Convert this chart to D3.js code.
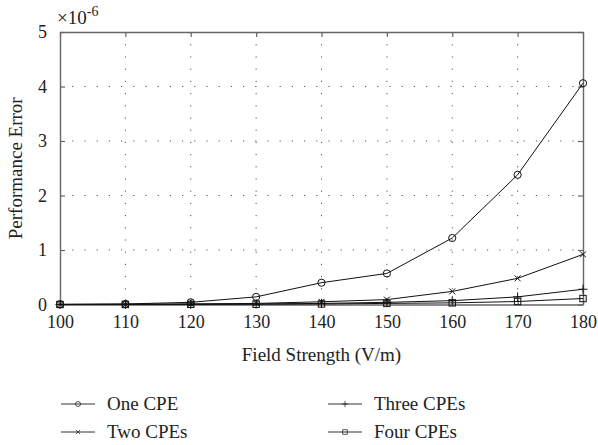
<!DOCTYPE html>
<html>
<head>
<meta charset="utf-8">
<script src="https://cdn.jsdelivr.net/npm/d3@7"></script>
<style>
    body { margin: 0; background: #fff; }
</style>
</head>
<body>
<div id="chart"></div>
<script>
// field strength (V/m)
const fieldStrength = [100, 110, 120, 130, 140, 150, 160, 170, 180]
// performance error, in units of 1e-6
const oneCPE = [0.005, 0.01, 0.04, 0.14, 0.40, 0.57, 1.22, 2.38, 4.06]
const twoCPEs = [0, 0.004, 0.01, 0.02, 0.05, 0.09, 0.24, 0.48, 0.92]
const threeCPEs = [0, 0.002, 0.005, 0.01, 0.02, 0.04, 0.07, 0.14, 0.28]
const fourCPEs = [0, 0.001, 0.003, 0.005, 0.01, 0.02, 0.03, 0.055, 0.11]
const xTicks = [100, 110, 120, 130, 140, 150, 160, 170, 180]
const yTicks = [0, 1, 2, 3, 4, 5]

const series = [
    { name: "One CPE", values: oneCPE, marker: "circle" },
    { name: "Two CPEs", values: twoCPEs, marker: "cross" },
    { name: "Three CPEs", values: threeCPEs, marker: "plus" },
    { name: "Four CPEs", values: fourCPEs, marker: "square" }
]

const W = 598, H = 445
const plot = { left: 60, right: 583, top: 32, bottom: 304.5 }
const axisColor = "#666"
const serif = "Tinos"

const svg = d3.select("#chart").append("svg")
    .attr("width", W)
    .attr("height", H)
    .attr("font-family", serif)

const x = d3.scaleLinear().domain([100, 180]).range([plot.left, plot.right])
const y = d3.scaleLinear().domain([0, 5]).range([plot.bottom, plot.top])

// dotted grid
svg.append("g").selectAll("line").data(xTicks.slice(1, -1))
    .enter().append("line")
    .attr("x1", d => x(d)).attr("x2", d => x(d))
    .attr("y1", plot.top).attr("y2", plot.bottom)
    .attr("stroke", "#555").attr("stroke-width", 1)
    .attr("stroke-dasharray", "1.2,11")
svg.append("g").selectAll("line").data(yTicks.slice(1, -1))
    .enter().append("line")
    .attr("x1", plot.left).attr("x2", plot.right)
    .attr("y1", d => y(d)).attr("y2", d => y(d))
    .attr("stroke", "#555").attr("stroke-width", 1)
    .attr("stroke-dasharray", "1.2,11")

// axes (ticks inward, box on all sides)
function styleAxis(g) {
    g.attr("font-family", serif).attr("font-size", 18)
    g.select(".domain").attr("stroke", axisColor).attr("stroke-width", 1.4)
    g.selectAll(".tick line").attr("stroke", axisColor).attr("stroke-width", 1.2)
    g.selectAll(".tick text").attr("fill", "#222")
}

svg.append("g")
    .attr("transform", `translate(0,${plot.bottom})`)
    .call(d3.axisBottom(x).tickValues(xTicks).tickSizeInner(-5).tickSizeOuter(0).tickPadding(11).tickFormat(d3.format("d")))
    .call(styleAxis)
svg.append("g")
    .attr("transform", `translate(0,${plot.top})`)
    .call(d3.axisTop(x).tickValues(xTicks).tickSizeInner(-5).tickSizeOuter(0).tickFormat(""))
    .call(styleAxis)
svg.append("g")
    .attr("transform", `translate(${plot.left},0)`)
    .call(d3.axisLeft(y).tickValues(yTicks).tickSizeInner(-5).tickSizeOuter(0).tickPadding(13).tickFormat(d3.format("d")))
    .call(styleAxis)
svg.append("g")
    .attr("transform", `translate(${plot.right},0)`)
    .call(d3.axisRight(y).tickValues(yTicks).tickSizeInner(-5).tickSizeOuter(0).tickFormat(""))
    .call(styleAxis)

// markers
function drawMarker(g, type, cx, cy) {
    if (type === "circle") {
        g.append("circle").attr("cx", cx).attr("cy", cy).attr("r", 3.6)
            .attr("fill", "none").attr("stroke", "#111").attr("stroke-width", 1)
    } else if (type === "cross") {
        const s = 3
        g.append("path")
            .attr("d", `M${cx - s},${cy - s}L${cx + s},${cy + s}M${cx - s},${cy + s}L${cx + s},${cy - s}`)
            .attr("stroke", "#111").attr("stroke-width", 1)
    } else if (type === "plus") {
        const s = 4.5
        g.append("path")
            .attr("d", `M${cx - s},${cy}L${cx + s},${cy}M${cx},${cy - s}L${cx},${cy + s}`)
            .attr("stroke", "#111").attr("stroke-width", 1)
    } else if (type === "square") {
        const s = 3.2
        g.append("rect").attr("x", cx - s).attr("y", cy - s)
            .attr("width", 2 * s).attr("height", 2 * s)
            .attr("fill", "none").attr("stroke", "#111").attr("stroke-width", 1)
    }
}

const line = d3.line()
    .x((d, i) => x(fieldStrength[i]))
    .y(d => y(d))

series.slice().reverse().forEach(s => {
    const g = svg.append("g")
    g.append("path")
        .datum(s.values)
        .attr("d", line)
        .attr("fill", "none")
        .attr("stroke", "#111")
        .attr("stroke-width", 1)
    s.values.forEach((v, i) => drawMarker(g, s.marker, x(fieldStrength[i]), y(v)))
})

// exponent label
const expText = svg.append("text")
    .attr("x", 57).attr("y", 24)
    .attr("font-family", serif)
    .attr("font-size", 19)
    .attr("fill", "#222")
expText.append("tspan").text("×10")
expText.append("tspan").attr("dy", -8).attr("font-size", 14).text("-6")

// axis titles
svg.append("text")
    .attr("x", (plot.left + plot.right) / 2)
    .attr("y", 361)
    .attr("text-anchor", "middle")
    .attr("font-family", serif)
    .attr("font-size", 19)
    .attr("fill", "#222")
    .text("Field Strength (V/m)")

svg.append("text")
    .attr("transform", `translate(22,${(plot.top + plot.bottom) / 2}) rotate(-90)`)
    .attr("text-anchor", "middle")
    .attr("font-family", serif)
    .attr("font-size", 19)
    .attr("fill", "#222")
    .text("Performance Error")

// legend
const legendPos = [
    { x: 61, y: 404 }, { x: 61, y: 432 },
    { x: 328, y: 404 }, { x: 328, y: 432 }
]
series.forEach((s, i) => {
    const p = legendPos[i]
    const g = svg.append("g")
    g.append("line")
        .attr("x1", p.x).attr("x2", p.x + 34)
        .attr("y1", p.y).attr("y2", p.y)
        .attr("stroke", "#333").attr("stroke-width", 1)
    const lg = g.append("g").attr("transform", `translate(${p.x + 17},${p.y}) scale(0.7)`)
    drawMarker(lg, s.marker, 0, 0)
    g.append("text")
        .attr("x", p.x + 46).attr("y", p.y)
        .attr("dy", "0.33em")
        .attr("font-family", serif)
        .attr("font-size", 19)
        .attr("fill", "#222")
        .text(s.name)
})
</script>
</body>
</html>
